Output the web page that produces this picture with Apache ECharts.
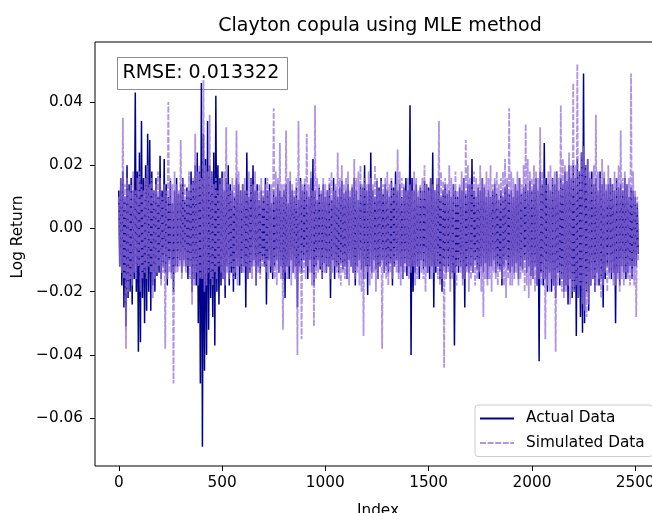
<!DOCTYPE html>
<html>
<head>
<meta charset="utf-8">
<script src="https://cdn.jsdelivr.net/npm/echarts@6/dist/echarts.min.js"></script>
<style>
html,body{margin:0;padding:0;background:#fff;}
#chart{width:652px;height:513px;}
</style>
</head>
<body>
<div id="chart"></div>
<script>
// ---- data ----
// Each 10-index block: the block's upper value (at its start) and lower value (5 steps later).
const blockStep = 10;
const actualHigh = [
  0.012,0.016,0.018,0.010,0.020,0.014,0.016,0.012,0.043,0.018,
  0.024,0.034,0.016,0.020,0.030,0.028,0.018,0.012,0.016,0.010,
  0.023,0.012,0.022,0.014,0.010,0.015,0.008,0.012,0.016,0.011,
  0.014,0.016,0.009,0.013,0.012,0.018,0.015,0.020,0.024,0.018,
  0.046,0.030,0.022,0.034,0.020,0.018,0.024,0.042,0.020,0.016,
  0.018,0.012,0.016,0.020,0.014,0.012,0.010,0.016,0.014,0.012,
  0.014,0.012,0.024,0.010,0.016,0.020,0.012,0.014,0.009,0.012,
  0.010,0.016,0.012,0.014,0.008,0.012,0.010,0.014,0.012,0.010,
  0.012,0.014,0.008,0.015,0.012,0.010,0.013,0.009,0.016,0.012,
  0.014,0.012,0.010,0.016,0.022,0.012,0.009,0.013,0.011,0.014,
  0.010,0.012,0.014,0.009,0.016,0.012,0.010,0.013,0.015,0.011,
  0.012,0.014,0.010,0.013,0.016,0.012,0.009,0.014,0.013,0.020,
  0.012,0.014,0.024,0.012,0.010,0.015,0.013,0.016,0.011,0.014,
  0.012,0.010,0.015,0.013,0.018,0.012,0.014,0.010,0.013,0.016,
  0.012,0.039,0.016,0.012,0.014,0.010,0.013,0.012,0.015,0.014,
  0.013,0.016,0.024,0.012,0.014,0.016,0.010,0.012,0.014,0.011,
  0.012,0.010,0.014,0.012,0.010,0.013,0.012,0.016,0.011,0.014,
  0.014,0.022,0.012,0.010,0.013,0.012,0.016,0.013,0.010,0.012,
  0.010,0.012,0.014,0.011,0.009,0.012,0.010,0.013,0.014,0.011,
  0.012,0.010,0.014,0.012,0.016,0.011,0.013,0.014,0.012,0.015,
  0.012,0.014,0.016,0.012,0.018,0.014,0.027,0.016,0.014,0.012,
  0.016,0.014,0.018,0.012,0.016,0.014,0.018,0.015,0.020,0.016,
  0.020,0.016,0.022,0.018,0.024,0.049,0.020,0.022,0.016,0.018,
  0.014,0.016,0.012,0.018,0.014,0.016,0.012,0.014,0.016,0.014,
  0.012,0.016,0.013,0.014,0.012,0.016,0.014,0.010,0.013,0.012,
  0.010,0.008
];
const actualLow = [
  -0.012,-0.018,-0.025,-0.031,-0.022,-0.020,-0.024,-0.016,-0.020,-0.039,
  -0.036,-0.022,-0.030,-0.026,-0.020,-0.026,-0.018,-0.020,-0.015,-0.014,
  -0.016,-0.012,-0.014,-0.018,-0.010,-0.014,-0.020,-0.012,-0.012,-0.010,
  -0.014,-0.010,-0.012,-0.016,-0.012,-0.020,-0.016,-0.018,-0.030,-0.049,
  -0.069,-0.045,-0.040,-0.032,-0.022,-0.028,-0.037,-0.020,-0.024,-0.018,
  -0.016,-0.022,-0.012,-0.018,-0.014,-0.020,-0.016,-0.012,-0.018,-0.014,
  -0.012,-0.025,-0.016,-0.014,-0.012,-0.010,-0.018,-0.012,-0.014,-0.010,
  -0.012,-0.024,-0.010,-0.014,-0.016,-0.012,-0.010,-0.014,-0.012,-0.016,
  -0.022,-0.012,-0.016,-0.010,-0.014,-0.012,-0.025,-0.012,-0.014,-0.010,
  -0.012,-0.016,-0.010,-0.014,-0.018,-0.012,-0.010,-0.013,-0.016,-0.011,
  -0.014,-0.012,-0.022,-0.010,-0.016,-0.012,-0.014,-0.011,-0.013,-0.012,
  -0.016,-0.010,-0.012,-0.014,-0.018,-0.012,-0.010,-0.013,-0.016,-0.012,
  -0.021,-0.012,-0.014,-0.010,-0.013,-0.016,-0.012,-0.010,-0.014,-0.012,
  -0.014,-0.011,-0.018,-0.012,-0.010,-0.014,-0.012,-0.016,-0.011,-0.015,
  -0.012,-0.040,-0.020,-0.014,-0.012,-0.016,-0.010,-0.013,-0.012,-0.014,
  -0.016,-0.012,-0.025,-0.014,-0.012,-0.016,-0.020,-0.012,-0.014,-0.012,
  -0.016,-0.014,-0.037,-0.012,-0.014,-0.012,-0.016,-0.025,-0.012,-0.014,
  -0.012,-0.014,-0.010,-0.013,-0.016,-0.012,-0.014,-0.011,-0.016,-0.012,
  -0.012,-0.010,-0.014,-0.012,-0.013,-0.018,-0.012,-0.010,-0.013,-0.014,
  -0.012,-0.014,-0.011,-0.016,-0.012,-0.013,-0.010,-0.014,-0.012,-0.015,
  -0.016,-0.012,-0.018,-0.042,-0.014,-0.018,-0.016,-0.020,-0.014,-0.020,
  -0.018,-0.022,-0.014,-0.018,-0.016,-0.020,-0.018,-0.024,-0.016,-0.022,
  -0.020,-0.034,-0.022,-0.028,-0.033,-0.030,-0.020,-0.026,-0.018,-0.016,
  -0.020,-0.014,-0.018,-0.016,-0.025,-0.016,-0.012,-0.014,-0.016,-0.014,
  -0.030,-0.014,-0.018,-0.012,-0.014,-0.016,-0.014,-0.012,-0.016,-0.012,
  -0.012,-0.008
];
const simulatedHigh = [
  0.010,0.016,0.035,0.014,0.016,0.012,0.014,0.018,0.012,0.016,
  0.018,0.014,0.012,0.016,0.020,0.014,0.016,0.012,0.014,0.018,
  0.016,0.010,0.014,0.012,0.040,0.016,0.014,0.018,0.014,0.012,
  0.028,0.016,0.014,0.012,0.018,0.014,0.016,0.030,0.018,0.020,
  0.016,0.047,0.020,0.018,0.036,0.018,0.014,0.016,0.012,0.014,
  0.016,0.018,0.032,0.014,0.012,0.016,0.014,0.031,0.018,0.012,
  0.014,0.016,0.012,0.018,0.016,0.014,0.018,0.012,0.014,0.016,
  0.012,0.014,0.016,0.012,0.014,0.038,0.018,0.016,0.027,0.014,
  0.014,0.031,0.016,0.018,0.014,0.012,0.016,0.034,0.015,0.014,
  0.016,0.030,0.014,0.018,0.012,0.039,0.016,0.014,0.012,0.016,
  0.014,0.012,0.016,0.018,0.012,0.014,0.024,0.016,0.020,0.014,
  0.016,0.018,0.012,0.014,0.022,0.016,0.018,0.020,0.014,0.016,
  0.014,0.018,0.016,0.014,0.020,0.016,0.012,0.015,0.014,0.016,
  0.018,0.014,0.016,0.012,0.014,0.025,0.018,0.016,0.014,0.012,
  0.016,0.014,0.012,0.018,0.016,0.012,0.014,0.016,0.020,0.014,
  0.012,0.016,0.014,0.012,0.016,0.034,0.018,0.015,0.016,0.014,
  0.020,0.016,0.014,0.018,0.012,0.014,0.018,0.016,0.028,0.020,
  0.016,0.014,0.018,0.016,0.014,0.020,0.016,0.014,0.018,0.016,
  0.020,0.014,0.016,0.018,0.014,0.016,0.018,0.022,0.016,0.038,
  0.018,0.016,0.014,0.018,0.016,0.014,0.020,0.033,0.022,0.018,
  0.016,0.020,0.018,0.016,0.032,0.018,0.016,0.014,0.018,0.020,
  0.016,0.018,0.018,0.016,0.039,0.022,0.020,0.018,0.024,0.020,
  0.046,0.020,0.052,0.018,0.024,0.026,0.020,0.022,0.018,0.016,
  0.020,0.036,0.018,0.016,0.022,0.018,0.014,0.020,0.016,0.014,
  0.018,0.016,0.020,0.031,0.016,0.018,0.014,0.016,0.049,0.018,
  0.012,0.010
];
const simulatedLow = [
  -0.012,-0.014,-0.016,-0.038,-0.020,-0.016,-0.018,-0.014,-0.016,-0.012,
  -0.020,-0.016,-0.014,-0.016,-0.012,-0.014,-0.022,-0.016,-0.014,-0.012,
  -0.018,-0.014,-0.038,-0.016,-0.014,-0.016,-0.049,-0.014,-0.014,-0.012,
  -0.016,-0.012,-0.014,-0.012,-0.016,-0.024,-0.018,-0.014,-0.018,-0.016,
  -0.016,-0.020,-0.018,-0.014,-0.016,-0.018,-0.014,-0.016,-0.012,-0.014,
  -0.016,-0.018,-0.014,-0.016,-0.012,-0.016,-0.014,-0.018,-0.012,-0.014,
  -0.014,-0.012,-0.016,-0.014,-0.016,-0.012,-0.018,-0.014,-0.016,-0.012,
  -0.012,-0.014,-0.016,-0.012,-0.014,-0.016,-0.018,-0.014,-0.016,-0.032,
  -0.014,-0.016,-0.012,-0.018,-0.014,-0.016,-0.040,-0.014,-0.035,-0.014,
  -0.016,-0.012,-0.014,-0.018,-0.031,-0.016,-0.014,-0.012,-0.016,-0.014,
  -0.014,-0.012,-0.016,-0.014,-0.012,-0.014,-0.016,-0.018,-0.014,-0.016,
  -0.016,-0.018,-0.012,-0.014,-0.016,-0.014,-0.018,-0.020,-0.034,-0.016,
  -0.014,-0.018,-0.016,-0.014,-0.020,-0.016,-0.012,-0.038,-0.014,-0.016,
  -0.018,-0.014,-0.016,-0.012,-0.014,-0.016,-0.018,-0.016,-0.014,-0.012,
  -0.016,-0.014,-0.012,-0.018,-0.016,-0.012,-0.014,-0.016,-0.020,-0.014,
  -0.012,-0.016,-0.014,-0.012,-0.016,-0.018,-0.016,-0.044,-0.016,-0.014,
  -0.020,-0.016,-0.014,-0.018,-0.012,-0.014,-0.018,-0.016,-0.014,-0.020,
  -0.016,-0.014,-0.018,-0.016,-0.014,-0.020,-0.028,-0.016,-0.018,-0.016,
  -0.020,-0.014,-0.016,-0.018,-0.014,-0.016,-0.018,-0.022,-0.016,-0.018,
  -0.018,-0.016,-0.014,-0.018,-0.016,-0.014,-0.020,-0.018,-0.022,-0.018,
  -0.016,-0.020,-0.018,-0.016,-0.018,-0.016,-0.035,-0.018,-0.020,-0.016,
  -0.018,-0.039,-0.018,-0.016,-0.020,-0.022,-0.020,-0.018,-0.024,-0.020,
  -0.020,-0.018,-0.022,-0.018,-0.024,-0.026,-0.028,-0.024,-0.018,-0.016,
  -0.020,-0.018,-0.016,-0.022,-0.018,-0.014,-0.020,-0.016,-0.014,-0.018,
  -0.018,-0.016,-0.020,-0.016,-0.018,-0.014,-0.016,-0.018,-0.016,-0.018,
  -0.028,-0.010
];
const xTicks = [0, 500, 1000, 1500, 2000, 2500];
const yTicks = [-0.06, -0.04, -0.02, 0.00, 0.02, 0.04];
const titleText = 'Clayton copula using MLE method';
const rmseText = 'RMSE: 0.013322';
const seriesNames = ['Actual Data', 'Simulated Data'];

// ---- chart ----
const FONT = 'DejaVu Sans';
function toPairs(high, low) {
  const out = [];
  for (let i = 0; i < high.length; i++) {
    out.push([i * blockStep, high[i]]);
    out.push([i * blockStep + blockStep / 2, low[i]]);
  }
  return out;
}
const fmtY = v => (v < 0 ? '\u2212' : '') + Math.abs(v).toFixed(2);
const SIM_COLOR = 'rgba(147,112,219,0.74)';

const chart = echarts.init(document.getElementById('chart'), null, {renderer: 'canvas'});
chart.setOption({
  animation: false,
  backgroundColor: '#ffffff',
  title: {
    text: titleText,
    left: 375, top: 12, textAlign: 'center',
    textStyle: {fontFamily: FONT, fontSize: 19, fontWeight: 'normal', color: '#000'}
  },
  grid: {
    left: 95, top: 42, width: 566, height: 424,
    outerBoundsMode: 'none', containLabel: false,
    show: true, borderColor: '#000', borderWidth: 1, backgroundColor: 'transparent'
  },
  xAxis: {
    type: 'value', min: -115, max: 2625,
    name: 'Index', nameLocation: 'middle', nameGap: 38,
    nameTextStyle: {fontFamily: FONT, fontSize: 15.3, color: '#000'},
    axisLine: {show: false, onZero: false},
    axisTick: {show: true, customValues: xTicks, length: 5, lineStyle: {color: '#000', width: 1}},
    axisLabel: {customValues: xTicks, margin: 10, formatter: v => String(v), fontFamily: FONT, fontSize: 15.3, color: '#000'},
    splitLine: {show: false}
  },
  yAxis: {
    type: 'value', min: -0.07511, max: 0.05898,
    name: 'Log Return', nameLocation: 'middle', nameGap: 68, nameRotate: 90,
    nameTextStyle: {fontFamily: FONT, fontSize: 15.3, color: '#000', padding: [0, 0, 0, 34]},
    axisLine: {show: false, onZero: false},
    axisTick: {show: true, customValues: yTicks, length: 5, lineStyle: {color: '#000', width: 1}},
    axisLabel: {customValues: yTicks, margin: 12, formatter: fmtY, fontFamily: FONT, fontSize: 15.3, color: '#000'},
    splitLine: {show: false}
  },
  legend: {
    data: seriesNames,
    orient: 'vertical',
    left: 475, top: 405,
    padding: [6, 8, 6, 4],
    itemWidth: 34, itemHeight: 14, itemGap: 9.5,
    itemStyle: {opacity: 0},
    lineStyle: {width: 2},
    backgroundColor: 'rgba(255,255,255,0.8)',
    borderColor: '#cccccc', borderWidth: 1, borderRadius: 3,
    textStyle: {fontFamily: FONT, fontSize: 15.3, color: '#000', padding: [0, 0, 0, 7]}
  },
  series: [
    {
      name: seriesNames[0], type: 'line', data: toPairs(actualHigh, actualLow),
      symbol: 'none', showSymbol: false, sampling: null,
      lineStyle: {color: '#00008b', width: 1.5}, itemStyle: {color: '#00008b', opacity: 0},
      z: 2
    },
    {
      name: seriesNames[1], type: 'line', data: toPairs(simulatedHigh, simulatedLow),
      symbol: 'none', showSymbol: false, sampling: null,
      lineStyle: {color: SIM_COLOR, width: 1.8, type: [6, 1.6]},
      itemStyle: {color: SIM_COLOR, opacity: 0},
      z: 3
    }
  ],
  graphic: [
    {
      type: 'group', left: 117, top: 57, z: 100,
      children: [
        {type: 'rect', shape: {x: 0, y: 0, width: 170, height: 32},
         style: {fill: 'rgba(255,255,255,0.6)', stroke: 'rgba(0,0,0,0.45)', lineWidth: 1}},
        {type: 'text', x: 5, y: 16,
         style: {text: rmseText, fontFamily: FONT, fontSize: 19, fill: '#000', verticalAlign: 'middle'}}
      ]
    }
  ]
});
</script>
</body>
</html>
